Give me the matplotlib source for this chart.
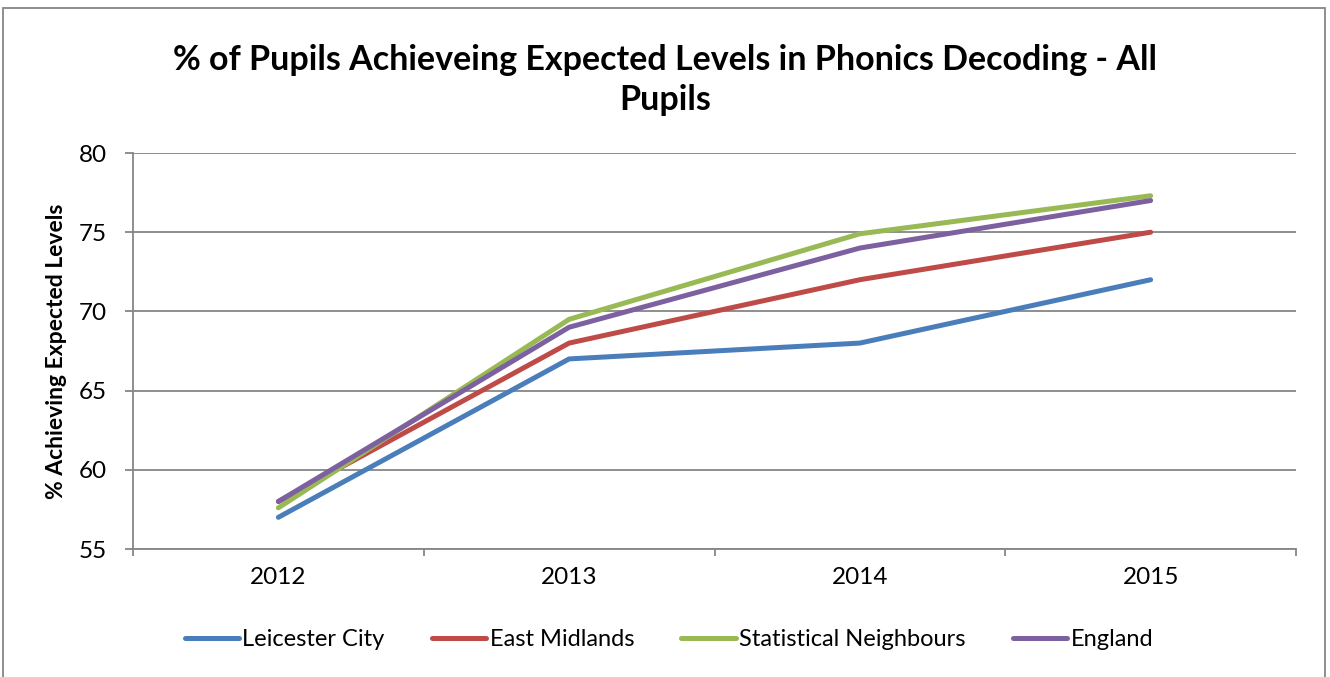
import matplotlib
matplotlib.use("Agg")
import matplotlib.pyplot as plt
from matplotlib.patches import Rectangle

plt.rcParams['font.family'] = ['Lato', 'DejaVu Sans']

years = ['2012', '2013', '2014', '2015']
leicester = [57, 67, 68, 72]
east_midlands = [58, 68, 72, 75]
stat_neighbours = [57.6, 69.5, 74.9, 77.3]
england = [58, 69, 74, 77]

series = [
    ('Leicester City', leicester, '#4A7EBB'),
    ('East Midlands', east_midlands, '#BE4B48'),
    ('Statistical Neighbours', stat_neighbours, '#98B954'),
    ('England', england, '#7D60A0'),
]

fig = plt.figure(figsize=(13.3, 6.77), dpi=100)
ax = fig.add_axes([133/1330, 1 - 549/677, (1296-133)/1330, (549-153)/677])

x = list(range(len(years)))
for name, vals, col in series:
    ax.plot(x, vals, color=col, lw=3.6, label=name, solid_capstyle='round')

ax.set_xlim(-0.5, 3.5)
ax.set_ylim(55, 80)
ax.set_yticks([55, 60, 65, 70, 75, 80])
ax.yaxis.grid(True, color='#868686', lw=1.3)
ax.set_axisbelow(True)
ax.set_xticks(x)
ax.set_xticklabels(years)
ax.set_xticks([-0.5, 0.5, 1.5, 2.5, 3.5], minor=True)
ax.tick_params(axis='x', which='major', length=0, labelsize=17.5, pad=13)
ax.tick_params(axis='x', which='minor', length=5, color='#868686', width=1.3, direction='out')
ax.tick_params(axis='y', length=6, color='#868686', width=1.3, labelsize=17.5, pad=13, direction='out')
for s in ['top', 'right']:
    ax.spines[s].set_visible(False)
for s in ['left', 'bottom']:
    ax.spines[s].set_color('#868686')
    ax.spines[s].set_linewidth(1.3)

ax.set_ylabel('% Achieving Expected Levels', fontsize=16.5, fontweight='bold')
ax.yaxis.set_label_coords((67-133)/1163, 0.5)

fig.text(0.5, 1 - 80/677, '% of Pupils Achieveing Expected Levels in Phonics Decoding - All\nPupils',
         ha='center', va='center', fontsize=24.5, fontweight='bold', linespacing=1.3)

fig.legend(loc='center', bbox_to_anchor=(0.503, 1 - 640/677), ncol=4, frameon=False,
           fontsize=17, handlelength=2.3, columnspacing=2.0, handletextpad=0.15)

fig.patches.append(Rectangle((3/1330, -0.05), 1322/1330, 1 - 8/677 + 0.05,
                             transform=fig.transFigure, fill=False, ec='#868686', lw=1.3))

fig.savefig('out.png', dpi=100)
